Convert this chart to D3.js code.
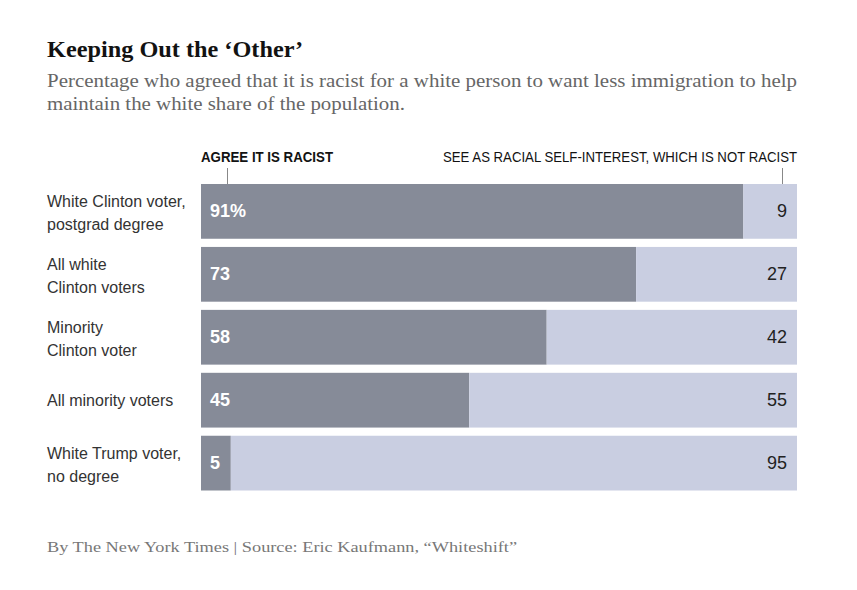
<!DOCTYPE html>
<html><head><meta charset="utf-8">
<script src="https://cdn.jsdelivr.net/npm/d3@7"></script>
<style>body{margin:0;background:#fff}</style>
</head><body>
<svg id="c" width="857" height="590"></svg>
<script>
const categories = [["White Clinton voter,","postgrad degree"],["All white","Clinton voters"],["Minority","Clinton voter"],["All minority voters"],["White Trump voter,","no degree"]];
const agree = [91,73,58,45,5];
const notRacist = [9,27,42,55,95];
const agreeLabels = ["91%","73","58","45","5"];

const svg = d3.select("#c");
const serif = "Georgia, 'Liberation Serif', 'DejaVu Serif', serif";
const sans = "'Liberation Sans', Arial, sans-serif";
const cond = "'Liberation Sans Narrow', 'Liberation Sans', sans-serif";

svg.append("text").attr("x",47).attr("y",57).attr("font-family",serif).attr("font-weight","bold")
  .attr("font-size",23).attr("fill","#121212").text("Keeping Out the ‘Other’")
  .attr("textLength",256).attr("lengthAdjust","spacingAndGlyphs");
svg.append("text").attr("x",47).attr("y",87).attr("font-family",serif).attr("font-size",19).attr("fill","#666")
  .text("Percentage who agreed that it is racist for a white person to want less immigration to help")
  .attr("textLength",750).attr("lengthAdjust","spacingAndGlyphs");
svg.append("text").attr("x",47).attr("y",110).attr("font-family",serif).attr("font-size",19).attr("fill","#666")
  .text("maintain the white share of the population.")
  .attr("textLength",358).attr("lengthAdjust","spacingAndGlyphs");

const x = d3.scaleLinear().domain([0,100]).range([201,797]);
const y = d3.scaleBand().domain(d3.range(categories.length)).range([184,490.5]).paddingInner(0.13).paddingOuter(0);

// headers
svg.append("text").attr("x",201).attr("y",162).attr("font-family",cond).attr("font-weight","bold").attr("font-size",15)
  .attr("fill","#121212").text("AGREE IT IS RACIST").attr("textLength",132).attr("lengthAdjust","spacingAndGlyphs");
svg.append("text").attr("x",797).attr("y",162).attr("text-anchor","end").attr("font-family",cond).attr("font-size",15)
  .attr("fill","#121212").text("SEE AS RACIAL SELF-INTEREST, WHICH IS NOT RACIST").attr("textLength",354).attr("lengthAdjust","spacingAndGlyphs");
svg.append("line").attr("x1",227.5).attr("x2",227.5).attr("y1",168).attr("y2",184).attr("stroke","#888");
svg.append("line").attr("x1",782.5).attr("x2",782.5).attr("y1",168).attr("y2",184).attr("stroke","#888");

const g = svg.append("g");
categories.forEach((c,i)=>{
  const y0 = y(i), h = y.bandwidth(), cy = y0 + h/2;
  g.append("rect").attr("x",x(0)).attr("y",y0).attr("width",x(agree[i])-x(0)).attr("height",h).attr("fill","#868b98");
  g.append("rect").attr("x",x(agree[i])).attr("y",y0).attr("width",x(100)-x(agree[i])).attr("height",h).attr("fill","#c9cee1");
  g.append("text").attr("x",x(0)+9).attr("y",cy+6).attr("font-family",sans).attr("font-weight","bold").attr("font-size",18)
    .attr("fill","#fff").text(agreeLabels[i]);
  g.append("text").attr("x",x(100)-10).attr("y",cy+6).attr("text-anchor","end").attr("font-family",sans).attr("font-size",18)
    .attr("fill","#222").text(notRacist[i]);
  const t = g.append("text").attr("font-family",sans).attr("font-size",16).attr("fill","#333");
  if (c.length===1) t.append("tspan").attr("x",47).attr("y",cy+6).text(c[0]);
  else { t.append("tspan").attr("x",47).attr("y",cy-4).text(c[0]); t.append("tspan").attr("x",47).attr("y",cy+19).text(c[1]); }
});

svg.append("text").attr("x",47).attr("y",552).attr("font-family",serif).attr("font-size",15).attr("fill","#777")
  .text("By The New York Times | Source: Eric Kaufmann, “Whiteshift”").attr("textLength",470).attr("lengthAdjust","spacingAndGlyphs");
</script>
</body></html>
